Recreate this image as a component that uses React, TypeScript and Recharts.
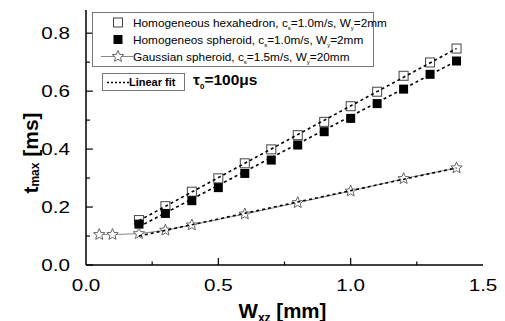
import React from 'react';
import { ScatterChart, Scatter, XAxis, YAxis, ReferenceLine } from 'recharts';

const widths = [0.2, 0.3, 0.4, 0.5, 0.6, 0.7, 0.8, 0.9, 1.0, 1.1, 1.2, 1.3, 1.4];
const hexTimes = [0.155, 0.203, 0.253, 0.299, 0.351, 0.399, 0.448, 0.494, 0.548, 0.598, 0.653, 0.699, 0.747];
const sphTimes = [0.141, 0.178, 0.222, 0.267, 0.316, 0.362, 0.414, 0.46, 0.506, 0.557, 0.607, 0.658, 0.704];
const gaussWidths = [0.05, 0.1, 0.2, 0.3, 0.4, 0.6, 0.8, 1.0, 1.2, 1.4];
const gaussTimes = [0.105, 0.105, 0.108, 0.12, 0.138, 0.176, 0.215, 0.255, 0.298, 0.335];
const fitWidths = [0.2, 1.4];
const hexFit = [0.153, 0.747];
const sphFit = [0.132, 0.704];
const gaussFit = [0.1, 0.335];

const xTicks = [0, 0.5, 1.0, 1.5];
const xMinor = [0.25, 0.75, 1.25];
const yTicks = [0, 0.2, 0.4, 0.6, 0.8];
const yMinor = [0.1, 0.3, 0.5, 0.7];

const zip = (xs: number[], ys: number[]) => xs.map((x, i) => ({ x, y: ys[i] }));

const hexData = zip(widths, hexTimes);
const sphData = zip(widths, sphTimes);
const gaussData = zip(gaussWidths, gaussTimes);

const FONT = '"Liberation Sans", Arial, sans-serif';

function OpenSquare({ cx, cy }: any) {
  return <rect x={cx - 4.5} y={cy - 4.5} width={9} height={9} fill="#fff" stroke="#444" strokeWidth={1} />;
}
function FilledSquare({ cx, cy }: any) {
  return <rect x={cx - 4.5} y={cy - 4.5} width={9} height={9} fill="#000" />;
}
function starPath(cx: number, cy: number, r: number) {
  const pts: string[] = [];
  for (let i = 0; i < 10; i++) {
    const rad = i % 2 === 0 ? r : r * 0.45;
    const a = -Math.PI / 2 + (i * Math.PI) / 5;
    pts.push(`${cx + rad * Math.cos(a)},${cy + rad * Math.sin(a)}`);
  }
  return 'M' + pts.join('L') + 'Z';
}
function Star({ cx, cy }: any) {
  return <path d={starPath(cx, cy, 6)} fill="#fff" stroke="#555" strokeWidth={0.9} />;
}
function NoShape() {
  return <g />;
}

// tick labels in the reference are horizontally stretched
function XTick({ x, y, payload }: any) {
  return (
    <text transform={`translate(${x} ${y + 14}) scale(1.25 1)`} textAnchor="middle" fontFamily={FONT} fontSize={16.5} fill="#000">
      {Number(payload.value).toFixed(1)}
    </text>
  );
}
function YTick({ x, y, payload }: any) {
  return (
    <text transform={`translate(${x} ${y + 6}) scale(1.25 1)`} textAnchor="end" fontFamily={FONT} fontSize={16.5} fill="#000">
      {Number(payload.value).toFixed(1)}
    </text>
  );
}

function YLabel() {
  const x = 22;
  const y = 145;
  return (
    <text x={x} y={y} transform={`rotate(-90 ${x} ${y})`} textAnchor="middle" fontFamily={FONT} fontWeight="bold" fontSize={21} fill="#000" dominantBaseline="central">
      t<tspan fontSize={12} dy={5}>max</tspan>
      <tspan dy={-5}> [ms]</tspan>
    </text>
  );
}

function XLabel({ viewBox }: any) {
  const x = viewBox.x + viewBox.width / 2 - 2;
  return (
    <text x={x} y={310} textAnchor="middle" fontFamily={FONT} fontWeight="bold" fontSize={20.5} fill="#000">
      W<tspan fontSize={12} dy={4}>xz</tspan>
      <tspan dy={-4}> [mm]</tspan>
    </text>
  );
}

const sub = { fontSize: 6, verticalAlign: 'sub' as const, lineHeight: 0 };

export default function App() {
  return (
    <div style={{ position: 'relative', width: 497, height: 313, fontFamily: FONT }}>
      <ScatterChart width={497} height={313} margin={{ top: 2, right: 22, bottom: 6, left: 18 }}>
        <XAxis
          type="number"
          dataKey="x"
          domain={[0, 1.5]}
          ticks={xTicks}
          tickLine={false}
          axisLine={{ stroke: '#000', strokeWidth: 1.5 }}
          tick={<XTick />}
          tickMargin={6}
          height={50}
          allowDataOverflow
          label={<XLabel />}
        />
        <XAxis xAxisId="top" type="number" orientation="top" domain={[0, 1.5]} tick={false} tickLine={false} axisLine={{ stroke: '#000', strokeWidth: 1.5 }} height={0} />
        <YAxis
          type="number"
          dataKey="y"
          domain={[0, 0.88]}
          ticks={yTicks}
          tickLine={false}
          axisLine={{ stroke: '#000', strokeWidth: 1.5 }}
          tick={<YTick />}
          tickMargin={10}
          width={60}
          allowDataOverflow
          label={<YLabel />}
        />
        <YAxis yAxisId="right" type="number" orientation="right" domain={[0, 0.88]} tick={false} tickLine={false} axisLine={{ stroke: '#000', strokeWidth: 1.5 }} width={0} />

        {yTicks.map((t) => (
          <ReferenceLine key={`ym${t}`} segment={[{ x: 0, y: t }, { x: 0.026, y: t }]} stroke="#000" strokeWidth={1.2} />
        ))}
        {yMinor.map((t) => (
          <ReferenceLine key={`yn${t}`} segment={[{ x: 0, y: t }, { x: 0.015, y: t }]} stroke="#000" strokeWidth={1.2} />
        ))}
        {xTicks.slice(1, 3).map((t) => (
          <ReferenceLine key={`xm${t}`} segment={[{ x: t, y: 0 }, { x: t, y: 0.024 }]} stroke="#000" strokeWidth={1.2} />
        ))}
        {xMinor.map((t) => (
          <ReferenceLine key={`xn${t}`} segment={[{ x: t, y: 0 }, { x: t, y: 0.012 }]} stroke="#000" strokeWidth={1.2} />
        ))}

        <Scatter data={gaussData} shape={<NoShape />} line={{ stroke: '#888', strokeWidth: 1 }} isAnimationActive={false} />
        <Scatter data={hexData} shape={<OpenSquare />} isAnimationActive={false} />
        <Scatter data={sphData} shape={<FilledSquare />} isAnimationActive={false} />
        <Scatter data={gaussData} shape={<Star />} isAnimationActive={false} />
        <Scatter data={zip(fitWidths, hexFit)} shape={<NoShape />} line={{ stroke: '#000', strokeWidth: 1.6, strokeDasharray: '3 3' }} isAnimationActive={false} />
        <Scatter data={zip(fitWidths, sphFit)} shape={<NoShape />} line={{ stroke: '#000', strokeWidth: 1.6, strokeDasharray: '3 3' }} isAnimationActive={false} />
        <Scatter data={zip(fitWidths, gaussFit)} shape={<NoShape />} line={{ stroke: '#000', strokeWidth: 1.6, strokeDasharray: '3 3' }} isAnimationActive={false} />
      </ScatterChart>

      <div style={{ position: 'absolute', left: 84, top: 4, width: 280, height: 53, border: '1px solid #777', background: '#fff', fontSize: 11.8, color: '#000' }}>
        {[
          { key: 'hex', label: <>Homogeneous hexahedron, c<span style={sub}>s</span>=1.0m/s, W<span style={sub}>y</span>=2mm</> },
          { key: 'sph', label: <>Homogeneos spheroid, c<span style={sub}>s</span>=1.0m/s, W<span style={sub}>y</span>=2mm</> },
          { key: 'gau', label: <>Gaussian spheroid, c<span style={sub}>s</span>=1.5m/s, W<span style={sub}>y</span>=20mm</> },
        ].map((row, i) => (
          <div key={row.key} style={{ position: 'absolute', left: 0, top: 1 + i * 17, height: 17, width: 280, display: 'flex', alignItems: 'center' }}>
            <svg width={40} height={17} style={{ flex: 'none' }}>
              {i === 0 && <rect x={20.5} y={4} width={9} height={9} fill="#fff" stroke="#444" />}
              {i === 1 && <rect x={20.5} y={4} width={9} height={9} fill="#000" />}
              {i === 2 && (
                <>
                  <line x1={8} x2={40} y1={8.5} y2={8.5} stroke="#888" strokeWidth={1} />
                  <path d={starPath(25, 8.5, 6)} fill="#fff" stroke="#555" strokeWidth={0.9} />
                </>
              )}
            </svg>
            <span style={{ whiteSpace: 'nowrap' }}>{row.label}</span>
          </div>
        ))}
      </div>

      <div style={{ position: 'absolute', left: 94, top: 65, width: 81, height: 16, border: '1px solid #777', background: '#fff', fontSize: 11, fontWeight: 'bold', display: 'flex', alignItems: 'center', color: '#000' }}>
        <svg width={26} height={16} style={{ flex: 'none' }}>
          <line x1={4} x2={26} y1={8.5} y2={8.5} stroke="#000" strokeWidth={1.3} strokeDasharray="2 2" />
        </svg>
        <span>Linear fit</span>
      </div>
      <div style={{ position: 'absolute', left: 185, top: 63, fontSize: 15.5, fontWeight: 'bold', color: '#000', whiteSpace: 'nowrap' }}>
        τ<span style={{ fontSize: 8, verticalAlign: 'sub', lineHeight: 0 }}>0</span>=100μs
      </div>
    </div>
  );
}
